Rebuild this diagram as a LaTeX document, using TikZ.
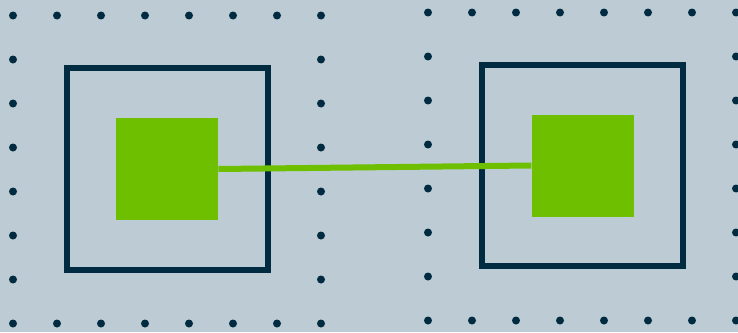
\documentclass[tikz,border=0pt]{standalone}
\usepackage{tikz}
\usetikzlibrary{positioning}
\definecolor{bgblue}{HTML}{BDCBD4}
\definecolor{navy}{HTML}{012B40}
\definecolor{leaf}{HTML}{6EBF00}

\begin{document}
\begin{tikzpicture}[x=1pt,y=-1pt]
\tikzstyle{frame}=[rectangle, minimum size = 201.5pt, inner sep=0pt, line width=6pt, draw=navy]
\tikzstyle{chip}=[rectangle, minimum size = 102pt, inner sep=0pt, fill=leaf]
\tikzstyle{link}=[line width=6pt, draw=leaf]
\tikzstyle{dot}=[circle, fill=navy, inner sep=0pt, minimum size=8pt]
  \fill[bgblue] (0,0) rectangle (738,332);
  \useasboundingbox (0,0) rectangle (738,332);
  % dotted borders
  \foreach \ox/\oy in {13/15.5, 428/12.5} {
    \foreach \i in {0,...,7} {
      \node[dot] at (\ox+44*\i, \oy) {};
      \node[dot] at (\ox+44*\i, \oy+308) {};
    }
    \foreach \i in {1,...,6} {
      \node[dot] at (\ox, \oy+44*\i) {};
      \node[dot] at (\ox+308, \oy+44*\i) {};
    }
  }
  \node[frame] (leftframe) at (167.25,169) {};
  \node[frame] (rightframe) at (582.5,165.5) {};
  \node[chip] (leftchip) at (leftframe.center) {};
  \node[chip] (rightchip) at (rightframe.center) {};
  \path (leftchip.east) edge [link] (rightchip.west);
\end{tikzpicture}
\end{document}
